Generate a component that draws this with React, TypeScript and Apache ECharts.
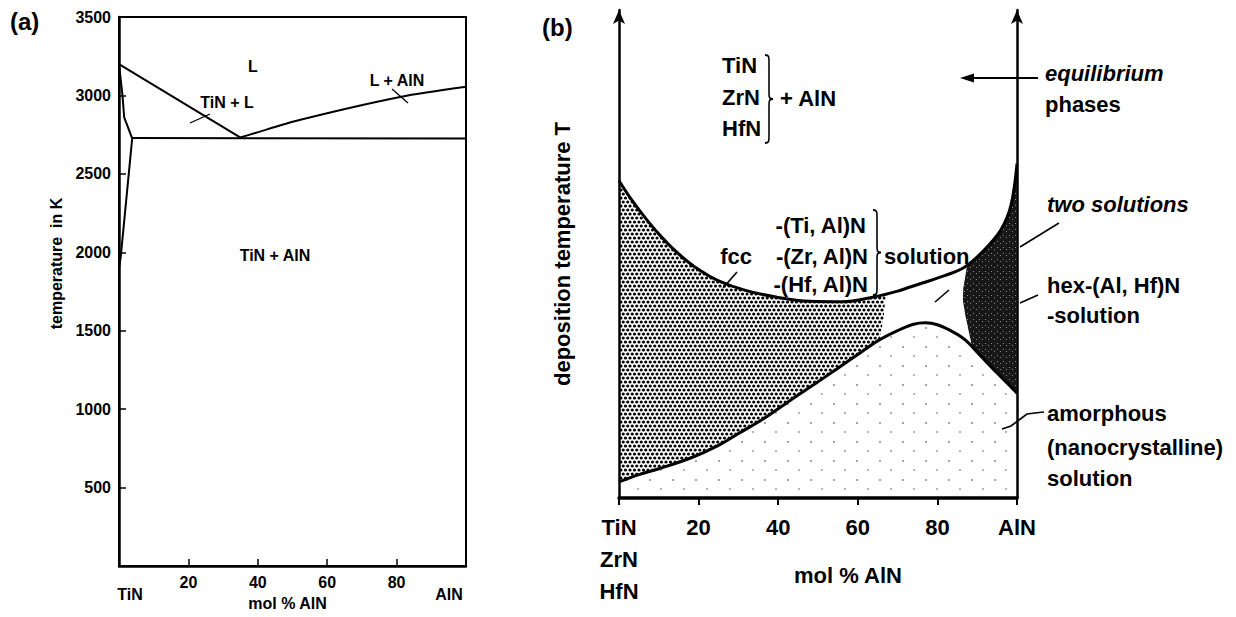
import React, { useEffect, useRef } from "react";
import * as echarts from "echarts";

// ---------------- panel (a): equilibrium TiN–AlN phase diagram ----------------
const aXTickValues = [0, 20, 40, 60, 80, 100];
const aXTickNames = ["TiN", "20", "40", "60", "80", "AlN"];
const aYTickValues = [0, 500, 1000, 1500, 2000, 2500, 3000, 3500];
const aLiquidusTiN = [[0, 3200], [34.9, 2732]];
const aLiquidusAlN = [[34.9, 2732], [37.7, 2750], [52, 2843], [81, 2990], [100, 3055]];
const aEutectic = [[3.8, 2728], [100, 2726]];
const aSolvus = [[0, 3200], [0.6, 3080], [1, 3000], [1.5, 2860], [3.8, 2726], [0.5, 1970], [0, 1900]];

// ---------------- panel (b): metastable deposition diagram ----------------
const bXTickValues = [0, 20, 40, 60, 80, 100];
const bXTickNames = ["TiN\nZrN\nHfN", "20", "40", "60", "80", "AlN"];
const bUpper = [
  [0, 65], [3, 61.3], [7, 57], [11, 53.2], [15, 50], [20, 46.8], [25, 44.5], [32, 42.5],
  [40, 41.1], [48, 40.3], [56, 40.2], [64, 41.2], [70, 42.4], [76, 44], [82, 45.6], [87, 47.4],
  [92, 51], [96, 55], [98.5, 60], [100, 68.5],
];
const bLower = [
  [0, 3.3], [5, 4.8], [10, 6], [18, 8.2], [25, 10.8], [30, 13.2], [37, 16.6], [43, 20],
  [50, 23.8], [55, 26.6], [60, 29.4], [65, 32.2], [70, 34.3], [74, 35.6], [77, 35.9], [80, 35.5],
  [84, 34], [87, 32.4], [91, 29], [95, 25.6], [100, 21.5],
];
const bFccEdge = [[67, 41.6], [66.5, 37], [65.5, 32.5]];
const bTwoSolEdge = [[88.7, 31], [87, 37.5], [86.4, 40.5], [86.5, 43], [87.4, 47.3]];

const FAM = '"Liberation Sans", Arial, Helvetica, sans-serif';

const BRACE_D =
  "M0,0 C6,0 6,2 6,8 L6,42 C6,48 6,50 12,50 C6,50 6,52 6,58 L6,92 C6,98 6,100 0,100";
echarts.graphic.registerShape("brace", echarts.graphic.extendPath(BRACE_D, {}) as any);

function makePattern(w: number, h: number, draw: (ctx: CanvasRenderingContext2D) => void) {
  const c = document.createElement("canvas");
  c.width = w;
  c.height = h;
  const ctx = c.getContext("2d") as CanvasRenderingContext2D;
  draw(ctx);
  return { image: c, repeat: "repeat" } as any;
}

function txt(text: string, x: number, y: number, o: any = {}) {
  const align = o.align || "left";
  const font = `${o.italic ? "italic " : ""}bold ${o.size || 22}px ${FAM}`;
  return {
    type: "text",
    x,
    y,
    silent: true,
    style: {
      text,
      fill: "#000",
      font,
      textAlign: align,
      textVerticalAlign: "middle",
      align,
      verticalAlign: "middle",
    },
  };
}

function seg(x1: number, y1: number, x2: number, y2: number, w = 1.6) {
  return { type: "line", silent: true, shape: { x1, y1, x2, y2 }, style: { stroke: "#000", lineWidth: w } };
}

function brace(x: number, y: number, h: number, w: number) {
  return {
    type: "brace",
    x,
    y,
    scaleX: w / 12,
    scaleY: h / 100,
    silent: true,
    style: { stroke: "#000", fill: "none", lineWidth: 1.8, strokeNoScale: true },
  };
}

export default function App() {
  const ref = useRef<HTMLDivElement>(null);

  useEffect(() => {
    if (!ref.current) return;
    const chart = echarts.init(ref.current, null, { renderer: "svg" });

    const dots = makePattern(9, 8, (ctx) => {
      ctx.fillStyle = "#000";
      [[2.25, 2], [6.75, 2], [0, 6], [4.5, 6], [9, 6]].forEach(([x, y]) => {
        ctx.beginPath();
        ctx.arc(x, y, 1.6, 0, Math.PI * 2);
        ctx.fill();
      });
    });
    const dark = makePattern(6, 6, (ctx) => {
      ctx.fillStyle = "#181818";
      ctx.fillRect(0, 0, 6, 6);
      ctx.fillStyle = "#8a8a8a";
      ctx.fillRect(1, 1, 1, 1);
      ctx.fillRect(4, 3, 1, 1);
    });
    const stipple = makePattern(23, 19, (ctx) => {
      ctx.fillStyle = "#333";
      ctx.beginPath();
      ctx.arc(6, 5, 0.8, 0, Math.PI * 2);
      ctx.fill();
      ctx.beginPath();
      ctx.arc(17, 14, 0.7, 0, Math.PI * 2);
      ctx.fill();
    });

    const labelFont = { color: "#000", fontFamily: FAM, fontWeight: "bold" as const };
    const aLabel = (v: number) => aXTickNames[aXTickValues.indexOf(v)] ?? "";
    const bLabel = (v: number) => bXTickNames[bXTickValues.indexOf(v)] ?? "";

    const lineSeries = (data: number[][], axis: number, width: number, smooth: number | boolean = false) => ({
      type: "line",
      xAxisIndex: axis,
      yAxisIndex: axis === 0 ? 0 : 1,
      data,
      symbol: "none",
      smooth,
      silent: true,
      z: 5,
      lineStyle: { color: "#000", width },
    });

    const option: any = {
      animation: false,
      backgroundColor: "#fff",
      grid: [
        { left: 119, top: 17, width: 347, height: 549, show: true, borderColor: "#000", borderWidth: 2, backgroundColor: "transparent", containLabel: false, outerBoundsMode: "none" },
        { left: 619, top: 10, width: 398, height: 488, containLabel: false, outerBoundsMode: "none" },
      ],
      xAxis: [
        {
          gridIndex: 0, type: "value", min: 0, max: 100, interval: 20,
          axisLine: { show: true, lineStyle: { color: "#000", width: 2.5 } },
          axisTick: { show: true, inside: true, length: 7, lineStyle: { color: "#000", width: 1.5 } },
          splitLine: { show: false },
          axisLabel: {
            margin: 8, fontSize: 16, ...labelFont,
            formatter: (v: number) => (v === 0 ? "{t|" + aLabel(v) + "}" : v === 100 ? "{n|" + aLabel(v) + "}" : aLabel(v)),
            rich: {
              t: { padding: [12, 0, 0, 22], fontSize: 16, ...labelFont },
              n: { padding: [12, 34, 0, 0], fontSize: 16, ...labelFont },
            },
          },
          name: "mol % AlN", nameLocation: "middle", nameGap: 29, nameMoveOverlap: false,
          nameTextStyle: { fontSize: 16, padding: [0, 10, 0, 0], ...labelFont },
        },
        {
          gridIndex: 1, type: "value", min: 0, max: 100, interval: 20,
          axisLine: { show: true, lineStyle: { color: "#000", width: 3.5 } },
          axisTick: { show: true, inside: false, length: 7, lineStyle: { color: "#000", width: 2 } },
          splitLine: { show: false },
          axisLabel: { margin: 13, fontSize: 22, lineHeight: 32, ...labelFont, formatter: (v: number) => bLabel(v) },
          name: "mol % AlN", nameLocation: "middle", nameGap: 66, nameMoveOverlap: false,
          nameTextStyle: { fontSize: 22, padding: [0, 0, 0, 60], ...labelFont },
        },
      ],
      yAxis: [
        {
          gridIndex: 0, type: "value", min: 0, max: 3500, interval: 500,
          axisLine: { show: true, lineStyle: { color: "#000", width: 2.5 } },
          axisTick: { show: true, inside: true, length: 7, lineStyle: { color: "#000", width: 1.5 } },
          splitLine: { show: false },
          axisLabel: {
            margin: 8, fontSize: 16, ...labelFont,
            formatter: (v: number) => (v === aYTickValues[0] ? "" : String(v)),
          },
          name: "temperature  in K", nameLocation: "middle", nameRotate: 90, nameGap: 55, nameMoveOverlap: false,
          nameTextStyle: { fontSize: 16, padding: [0, 0, 0, 56], ...labelFont },
        },
        {
          gridIndex: 1, type: "value", min: 0, max: 100,
          axisLine: { show: true, symbol: ["none", "arrow"], symbolSize: [9, 14], lineStyle: { color: "#000", width: 2.5 } },
          axisTick: { show: false }, axisLabel: { show: false }, splitLine: { show: false },
          name: "deposition temperature T", nameLocation: "middle", nameRotate: 90, nameGap: 46, nameMoveOverlap: false,
          nameTextStyle: { fontSize: 22, ...labelFont },
        },
        {
          gridIndex: 1, type: "value", position: "right", min: 0, max: 100,
          axisLine: { show: true, symbol: ["none", "arrow"], symbolSize: [9, 14], lineStyle: { color: "#000", width: 2.5 } },
          axisTick: { show: false }, axisLabel: { show: false }, splitLine: { show: false },
        },
      ],
      series: [
        lineSeries(aLiquidusTiN, 0, 2),
        lineSeries(aLiquidusAlN, 0, 2, 0.3),
        lineSeries(aEutectic, 0, 2),
        lineSeries(aSolvus, 0, 2),
        {
          type: "custom",
          xAxisIndex: 1,
          yAxisIndex: 1,
          silent: true,
          z: 1,
          data: [[0, 0]],
          encode: { x: 0, y: 1 },
          renderItem: (_p: any, api: any) => {
            const toPx = (pts: number[][]) => pts.map((p) => api.coord(p));
            const fcc = [
              ...bUpper.filter((p) => p[0] <= 64),
              ...bFccEdge,
              ...bLower.filter((p) => p[0] <= 65).reverse(),
            ];
            const two = [
              ...bTwoSolEdge,
              ...bUpper.filter((p) => p[0] > 87.4),
              ...bLower.filter((p) => p[0] >= 89).reverse(),
            ];
            const amor = [...bLower, [100, 0], [0, 0]];
            return {
              type: "group",
              children: [
                { type: "polygon", shape: { points: toPx(amor) }, style: { fill: stipple } },
                { type: "polygon", shape: { points: toPx(fcc) }, style: { fill: dots } },
                { type: "polygon", shape: { points: toPx(two) }, style: { fill: dark } },
              ],
            };
          },
        },
        lineSeries(bUpper, 1, 3, 0.35),
        lineSeries(bLower, 1, 3, 0.35),
      ],
      graphic: [
        // panel (a)
        txt("(a)", 10, 21, { size: 24 }),
        txt("L", 253, 66, { size: 16, align: "center" }),
        txt("TiN + L", 227, 102, { size: 16, align: "center" }),
        txt("L + AlN", 397, 80, { size: 16, align: "center" }),
        txt("TiN + AlN", 275, 255, { size: 16, align: "center" }),
        seg(190, 123, 210, 114, 1.3),
        seg(392, 89, 408, 103, 1.3),
        // panel (b)
        txt("(b)", 542, 27, { size: 24 }),
        txt("TiN", 722, 65),
        txt("ZrN", 722, 97),
        txt("HfN", 722, 128),
        brace(765, 55, 88, 8),
        txt("+ AlN", 780, 98),
        seg(1038, 78, 968, 78, 1.8),
        { type: "polygon", silent: true, shape: { points: [[960, 78], [974, 73.5], [974, 82.5]] }, style: { fill: "#000" } },
        txt("equilibrium", 1045, 73, { italic: true }),
        txt("phases", 1045, 104),
        txt("two solutions", 1047, 204, { italic: true }),
        seg(1059, 223, 1020, 247),
        txt("-(Ti, Al)N", 866, 225, { align: "right" }),
        txt("fcc", 752, 256, { align: "right" }),
        txt("-(Zr, Al)N", 868, 256, { align: "right" }),
        txt("-(Hf, Al)N", 868, 284, { align: "right" }),
        brace(873, 210, 85, 8),
        txt("solution", 884, 256),
        seg(737, 272, 723, 288),
        seg(949, 290, 935, 302),
        txt("hex-(Al, Hf)N", 1047, 285),
        txt("-solution", 1047, 315),
        seg(1038, 295, 1020, 303),
        txt("amorphous", 1047, 413),
        txt("(nanocrystalline)", 1047, 447),
        txt("solution", 1047, 478),
        {
          type: "polyline",
          silent: true,
          shape: { points: [[1002, 429], [1011, 426], [1019, 420], [1027, 414], [1035, 413], [1044, 412]] },
          style: { stroke: "#000", lineWidth: 1.6, fill: "none" },
        },
      ],
    };

    chart.setOption(option);
    return () => chart.dispose();
  }, []);

  return (
    <div
      ref={ref}
      style={{ position: "absolute", left: 0, top: 0, width: 1236, height: 617, background: "#fff" }}
    />
  );
}
